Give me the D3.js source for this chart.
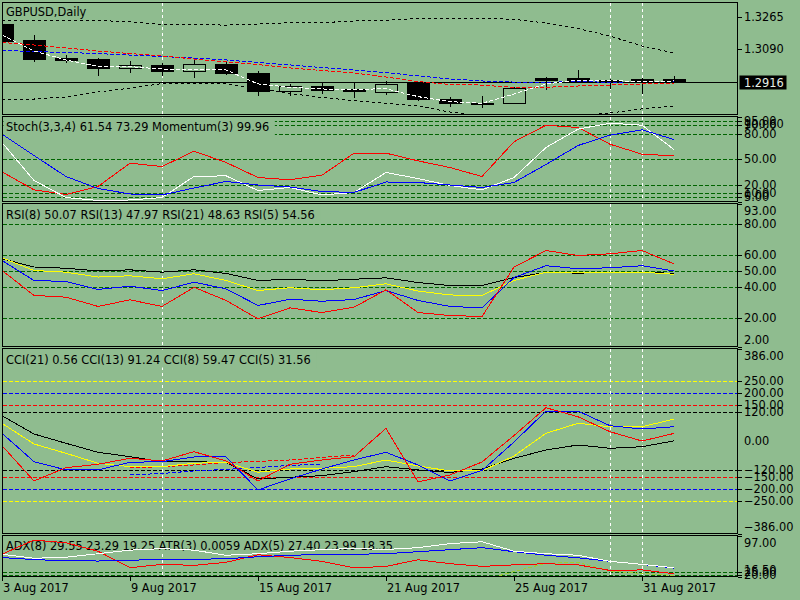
<!DOCTYPE html>
<html>
<head>
<meta charset="utf-8">
<script src="https://cdn.jsdelivr.net/npm/d3@7"></script>
<style>
  body { margin: 0; background: #8fbc8f; }
  svg { display: block; font-family: "DejaVu Sans", sans-serif; font-size: 11.4px; }
</style>
</head>
<body>
<svg id="chart" width="800" height="600"></svg>
<script>
// --- bars (GBPUSD daily) ---
var dates = ["3 Aug","4 Aug","7 Aug","8 Aug","9 Aug","10 Aug","11 Aug","14 Aug","15 Aug","16 Aug","17 Aug",
             "18 Aug","21 Aug","22 Aug","23 Aug","24 Aug","25 Aug","28 Aug","29 Aug","30 Aug","31 Aug","1 Sep"];
var open  = [1.3226,1.3140,1.3043,1.3038,1.2991,1.3006,1.2975,1.3011,1.2963,1.2868,1.2893,1.2879,1.2862,1.2908,1.2823,1.2799,1.2800,1.2936,1.2936,1.2925,1.2931,1.2931];
var high  = [1.3229,1.3168,1.3058,1.3041,1.3027,1.3015,1.3033,1.3027,1.2974,1.2904,1.2915,1.2915,1.2920,1.2912,1.2834,1.2839,1.2886,1.2943,1.2979,1.2928,1.2934,1.2947];
var low   = [1.3133,1.3022,1.3015,1.2947,1.2964,1.2947,1.2936,1.2952,1.2839,1.2841,1.2850,1.2829,1.2845,1.2811,1.2779,1.2773,1.2795,1.2872,1.2912,1.2875,1.2850,1.2907];
var close = [1.3136,1.3040,1.3033,1.2991,1.3006,1.2975,1.3011,1.2964,1.2868,1.2891,1.2872,1.2868,1.2902,1.2822,1.2800,1.2801,1.2881,1.2925,1.2914,1.2914,1.2920,1.2916];

// overlays on the price window
var bandUpper = [1.3247,1.3247,1.3247,1.3245,1.3237,1.3224,1.3222,1.3220,1.3226,1.3233,1.3233,1.3242,1.3246,1.3256,1.3258,1.3256,1.3251,1.3231,1.3201,1.3161,1.3108,1.3070];
var bandLower = [1.2818,1.2823,1.2834,1.2861,1.2881,1.2906,1.2909,1.2904,1.2880,1.2853,1.2831,1.2815,1.2799,1.2786,1.2753,1.2732,1.2721,1.2721,1.2732,1.2748,1.2770,1.2786];
var maRed   = [1.3127,1.3113,1.3097,1.3081,1.3067,1.3054,1.3038,1.3022,1.3008,1.2990,1.2976,1.2963,1.2941,1.2917,1.2901,1.2898,1.2885,1.2886,1.2893,1.2898,1.2904,1.2909];
var maBlue  = [1.3084,1.3078,1.3073,1.3067,1.3059,1.3051,1.3043,1.3033,1.3019,1.3006,1.2992,1.2979,1.2965,1.2947,1.2931,1.2920,1.2914,1.2914,1.2915,1.2914,1.2915,1.2916];
var maWhite = [1.3167,1.3081,1.3033,1.2998,1.2997,1.2984,1.2984,1.2979,1.2904,1.2886,1.2877,1.2875,1.2878,1.2836,1.2809,1.2800,1.2850,1.2904,1.2925,1.2921,1.2918,1.2920];
var lastPrice = 1.2916;
var priceTicks = [1.3265, 1.3090];

// stochastic window
var stochWhite = [69.8,24.9,4.7,1.2,1.8,4.7,29.6,30.4,13.0,16.6,7.7,10.7,34.3,27.2,18.9,13.8,28.4,63.9,85.6,92.7,90.3,61.5];
var stochBlue  = [79.6,54.4,29.6,15.4,8.9,7.7,16.0,23.7,19.5,17.2,11.8,10.7,23.1,22.5,19.5,16.6,22.5,43.8,66.3,78.5,84.9,73.3];
var stochRed   = [35.1,13.8,8.3,17.8,45.3,41.4,59.5,46.2,28.4,25.7,31.1,57.2,57.2,48.1,40.2,29.6,70.7,90.3,87.6,67.8,56.0,54.1];
var stochLevels = [95, 90, 80, 50, 20, 10, 5];

// RSI window
var rsi21 = [57.8,52.6,51.8,50.1,50.8,49.3,50.8,48.5,44.0,44.8,43.8,44.8,45.7,42.7,40.8,40.8,45.9,49.1,48.7,49.1,49.1,48.63];
var rsi13 = [58.5,50.4,49.3,46.2,47.0,45.1,48.3,44.0,37.6,39.4,38.1,39.4,41.9,37.3,34.8,34.5,44.0,49.3,49.3,49.3,49.3,47.97];
var rsi8  = [56.7,44.0,43.4,38.3,40.4,37.6,42.9,38.7,28.1,32.1,30.8,31.9,37.6,31.3,27.5,26.6,45.9,53.4,51.5,52.1,53.4,50.07];
var rsi5  = [50.4,34.5,33.4,27.5,31.7,27.5,39.7,31.3,19.6,26.6,23.6,27.0,38.1,23.6,21.7,21.1,52.5,63.1,59.9,61.0,63.1,54.56];
var rsiLevels = [80, 60, 50, 40, 20];

// CCI window
var cci21 = [105.4,29.2,-9.6,-47.1,-65.4,-86.3,-86.3,-89.6,-158.3,-151.3,-144.6,-127.9,-107.1,-120.8,-131.3,-116.7,-72.1,-37.5,-16.7,-30.4,-23.8,0.56];
var cci13 = [73.8,-12.5,-51.3,-92.9,-107.1,-107.1,-92.9,-88.8,-130.4,-116.7,-113.8,-107.1,-79.2,-104.2,-125,-125,-62.5,32.1,73.8,59.6,59.6,91.24];
var cci8  = [32.1,-86.3,-120.8,-120.8,-88.8,-86.3,-66.7,-66.7,-204.2,-158.3,-116.7,-79.2,-47.1,-100,-166.7,-122.9,-4.2,125,125,63.8,50,59.47];
var cci5  = [-19.6,-166.7,-111.3,-97.1,-72.1,-83.3,-44.6,-83.3,-166.7,-97.1,-79.2,-65.4,52.9,-170.8,-141.7,-87.5,22.9,138.8,101.3,38.8,0,31.56];
var cciRedDash  = [null,null,null,null,-111.3,-107.5,-100,-89.6,-85.4,-79.2,-68.8,-58.3,null,null,null,null,null,null,null,null,null,null];
var cciBlueDash = [null,null,null,null,-141.7,-135.4,-125,-118.8,-110.4,-102.1,-95.8,null,null,null,null,null,null,null,null,null,null,null];
var cciLevels = [250, 200, 150, 120, -120, -150, -200, -250];
var cciLevelColors = ["#ffff00","#0000ff","#ff0000","#000000","#000000","#ff0000","#0000ff","#ffff00"];

// ADX window
var adxWhite = [60.2,52.3,54.3,61.2,68.2,71.2,68.2,58.2,61.2,66.2,69.2,71.6,69.6,73.1,81.1,84.7,66.2,61.2,58.2,46.3,40.3,33.8];
var adxBlue  = [53.7,49.7,47.3,46.9,48.3,50.3,50.3,51.3,55.3,58.2,59.6,60.2,61.2,65.2,69.2,73.1,65.2,58.2,53.3,46.3,40.3,33.0];
var adxRed   = [60.2,88.1,82.7,66.2,33.8,40.3,38.4,44.3,59.2,53.7,46.3,33.4,36.4,49.3,41.7,36.4,39.3,41.7,39.3,28.4,29.4,21.9];
var adxGreen = [null,null,null,null,null,null,null,null,null,null,null,null,null,null,null,8.5,26.4,42.3,44.3,27.4,22.4,18.5];
var adxLevels = [25, 20];

// time axis
var tickIdx = [0, 4, 8, 12, 16, 20];
var tickLabels = ["3 Aug 2017","9 Aug 2017","15 Aug 2017","21 Aug 2017","25 Aug 2017","31 Aug 2017"];
var markerIdx = [5, 19, 20];

// --- layout ---
var svg = d3.select("#chart");
var left = 2.5, right = 737.5;
var gridGreen = "#006400";
var fmt2 = d3.format(".2f"), fmt4 = d3.format(".4f");

var x = d3.scaleLinear().domain([0, dates.length - 1]).range([2, 2 + 32 * (dates.length - 1)]);
function px(i) { return Math.round(x(i)) + 0.5; }

svg.append("rect").attr("width", 800).attr("height", 600).attr("fill", "#8fbc8f");

// each window: back layer (grid, markers), title layer, front layer (series)
function makePanel(id, top, bottom, domain) {
    var y = d3.scaleLinear().domain(domain).range([bottom, top]);
    svg.append("clipPath").attr("id", "clip-" + id)
        .append("rect")
        .attr("x", left + 0.5).attr("y", top + 0.5)
        .attr("width", right - left - 1).attr("height", bottom - top - 1);
    var back = svg.append("g").attr("clip-path", "url(#clip-" + id + ")");
    var title = svg.append("g");
    var g = svg.append("g").attr("clip-path", "url(#clip-" + id + ")");
    return { id: id, y: y, back: back, title: title, g: g, top: top, bottom: bottom };
}

function drawGrid(p, levels, colors) {
    levels.forEach(function(v, k) {
        var yy = Math.round(p.y(v)) + 0.5;
        p.back.append("line")
            .attr("x1", left).attr("x2", right).attr("y1", yy).attr("y2", yy)
            .attr("stroke", colors ? colors[k] : gridGreen)
            .attr("stroke-dasharray", "4,2")
            .attr("shape-rendering", "crispEdges");
    });
}

function drawMarkers(p) {
    markerIdx.forEach(function(i) {
        p.back.append("line")
            .attr("x1", px(i)).attr("x2", px(i)).attr("y1", p.top).attr("y2", p.bottom)
            .attr("stroke", "#fff").attr("stroke-dasharray", "3,3")
            .attr("shape-rendering", "crispEdges");
    });
}

function drawTitle(p, txt, baseline, withBg) {
    var bg = p.title.append("rect").attr("fill", "#8fbc8f");
    var t = p.title.append("text").attr("x", 6).attr("y", baseline).attr("fill", "#000").text(txt);
    if (withBg) {
        var w = t.node().getComputedTextLength();
        bg.attr("x", left + 1).attr("y", p.top + 1)
            .attr("width", w + 8).attr("height", baseline + 3 - p.top);
    } else {
        bg.remove();
    }
}

function drawSeries(p, values, color, dash) {
    var line = d3.line()
        .defined(function(d) { return d[1] != null; })
        .x(function(d) { return x(d[0]); })
        .y(function(d) { return p.y(d[1]); });
    var path = p.g.append("path")
        .datum(values.map(function(v, i) { return [i, v]; }))
        .attr("d", line)
        .attr("fill", "none")
        .attr("stroke", color)
        .attr("stroke-width", 1)
        .attr("shape-rendering", "crispEdges");
    if (dash) path.attr("stroke-dasharray", dash);
}

function drawBorder(p) {
    svg.append("rect")
        .attr("x", left).attr("y", p.top)
        .attr("width", right - left).attr("height", p.bottom - p.top)
        .attr("fill", "none").attr("stroke", "#000")
        .attr("shape-rendering", "crispEdges");
}

function axisLabel(yy, txt, tickY) {
    if (tickY != null) {
        svg.append("line").attr("x1", right).attr("x2", right + 4)
            .attr("y1", Math.round(tickY) + 0.5).attr("y2", Math.round(tickY) + 0.5)
            .attr("stroke", "#000").attr("shape-rendering", "crispEdges");
    }
    svg.append("text").attr("x", 744).attr("y", yy + 4).attr("fill", "#000").text(txt);
}

// MT4 style: min and max are written just inside the window, levels at their height
function drawScale(p, levels, extra) {
    var d = p.y.domain();
    axisLabel(p.top + 7, fmt2(d[1]), p.top);
    axisLabel(p.bottom - 7, fmt2(d[0]), p.bottom);
    levels.concat(extra || []).forEach(function(v) {
        var yy = p.y(v);
        axisLabel(yy, fmt2(v), levels.indexOf(v) >= 0 ? yy : null);
    });
}

// --- price window ---
var main = makePanel("main", 2.5, 114.5, [1.2740, 1.33412]);
drawMarkers(main);
var lastY = Math.round(main.y(lastPrice)) + 0.5;
main.back.append("line").attr("x1", left).attr("x2", right).attr("y1", lastY).attr("y2", lastY)
    .attr("stroke", "#000").attr("shape-rendering", "crispEdges");
drawTitle(main, "GBPUSD,Daily", 16, false);
drawSeries(main, bandUpper, "#000", "3,3");
drawSeries(main, bandLower, "#000", "3,3");

var candles = main.g.selectAll(".candle").data(dates.map(function(d, i) { return i; }))
    .enter().append("g").attr("class", "candle");
candles.append("line")
    .attr("x1", function(i) { return px(i); }).attr("x2", function(i) { return px(i); })
    .attr("y1", function(i) { return Math.round(main.y(high[i])); })
    .attr("y2", function(i) { return Math.round(main.y(low[i])); })
    .attr("stroke", "#000").attr("shape-rendering", "crispEdges");
candles.append("rect")
    .attr("x", function(i) { return Math.round(x(i)) - 10.5; })
    .attr("width", 22)
    .attr("y", function(i) { return Math.round(main.y(Math.max(open[i], close[i]))) + 0.5; })
    .attr("height", function(i) {
        return Math.max(1, Math.round(main.y(Math.min(open[i], close[i]))) - Math.round(main.y(Math.max(open[i], close[i]))));
    })
    .attr("fill", function(i) { return close[i] > open[i] ? "#8fbc8f" : "#000"; })
    .attr("stroke", "#000").attr("shape-rendering", "crispEdges");

drawSeries(main, maBlue, "#0000ff", "4,2");
drawSeries(main, maRed, "#ff0000", "4,2");
drawSeries(main, maWhite, "#ffffff", "4,2");
drawBorder(main);
priceTicks.forEach(function(v) { axisLabel(main.y(v), fmt4(v), main.y(v)); });
svg.append("rect").attr("x", 739.5).attr("y", lastY - 7).attr("width", 47).attr("height", 14).attr("fill", "#000");
svg.append("text").attr("x", 744).attr("y", lastY + 4).attr("fill", "#e6efe6").text(fmt4(lastPrice));

// --- stochastic ---
var stoch = makePanel("stoch", 116.5, 201.5, [0, 100.6]);
drawGrid(stoch, stochLevels);
drawMarkers(stoch);
drawTitle(stoch, "Stoch(3,3,4) 61.54 73.29 Momentum(3) 99.96", 131, true);
drawSeries(stoch, stochRed, "#ff0000");
drawSeries(stoch, stochWhite, "#ffffff");
drawSeries(stoch, stochBlue, "#0000ff");
drawBorder(stoch);
drawScale(stoch, stochLevels);

// --- RSI ---
var rsi = makePanel("rsi", 203.5, 346.5, [2, 93]);
drawGrid(rsi, rsiLevels);
drawMarkers(rsi);
drawTitle(rsi, "RSI(8) 50.07 RSI(13) 47.97 RSI(21) 48.63 RSI(5) 54.56", 219, true);
drawSeries(rsi, rsi21, "#000000");
drawSeries(rsi, rsi13, "#ffff00");
drawSeries(rsi, rsi8, "#0000ff");
drawSeries(rsi, rsi5, "#ff0000");
drawBorder(rsi);
drawScale(rsi, rsiLevels);

// --- CCI ---
var cci = makePanel("cci", 348.5, 533.5, [-386, 386]);
drawGrid(cci, cciLevels, cciLevelColors);
drawMarkers(cci);
drawTitle(cci, "CCI(21) 0.56 CCI(13) 91.24 CCI(8) 59.47 CCI(5) 31.56", 363.5, true);
drawSeries(cci, cciBlueDash, "#0000ff", "4,2");
drawSeries(cci, cciRedDash, "#ff0000", "4,2");
drawSeries(cci, cci21, "#000000");
drawSeries(cci, cci13, "#ffff00");
drawSeries(cci, cci8, "#0000ff");
drawSeries(cci, cci5, "#ff0000");
drawBorder(cci);
drawScale(cci, cciLevels, [0]);

// --- ADX ---
var adx = makePanel("adx", 535.5, 576.5, [16.5, 97]);
drawGrid(adx, adxLevels);
drawMarkers(adx);
drawTitle(adx, "ADX(8) 29.55 23.29 19.25 ATR(3) 0.0059 ADX(5) 27.40 23.99 18.35", 550, true);
drawSeries(adx, adxGreen, "#9acd32", "4,2");
drawSeries(adx, adxRed, "#ff0000");
drawSeries(adx, adxBlue, "#0000ff");
drawSeries(adx, adxWhite, "#ffffff");
drawBorder(adx);
drawScale(adx, adxLevels);

// --- time axis ---
tickIdx.forEach(function(i, k) {
    svg.append("line").attr("x1", px(i)).attr("x2", px(i)).attr("y1", 576.5).attr("y2", 580.5)
        .attr("stroke", "#000").attr("shape-rendering", "crispEdges");
    svg.append("text").attr("x", Math.max(3, x(i) + 1)).attr("y", 592).attr("fill", "#000").text(tickLabels[k]);
});
</script>
</body>
</html>
